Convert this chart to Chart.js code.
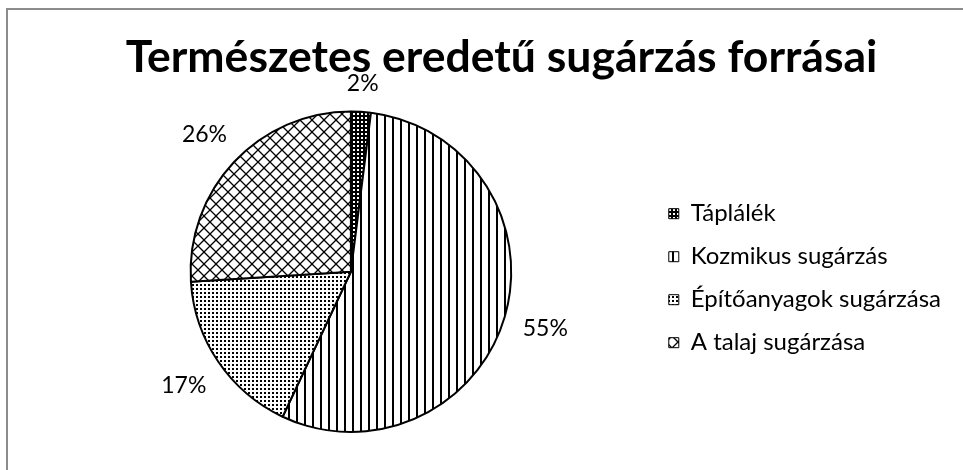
<!DOCTYPE html>
<html>
<head>
<meta charset="utf-8">
<script src="https://cdn.jsdelivr.net/npm/chart.js@4/dist/chart.umd.min.js"></script>
<style>
  html, body { margin: 0; padding: 0; background: #fff; }
  #wrap { position: relative; width: 963px; height: 470px; }
</style>
</head>
<body>
<div id="wrap"><canvas id="sources"></canvas></div>
<script>
// data
var categories = ["Táplálék", "Kozmikus sugárzás", "Építőanyagok sugárzása", "A talaj sugárzása"];
var values = [2, 55, 17, 26];
var chartTitle = "Természetes eredetű sugárzás forrásai";

// little hatch tiles, like the Excel pattern fills
function makePattern(size, draw) {
  var c = document.createElement('canvas');
  c.width = size; c.height = size;
  var g = c.getContext('2d');
  g.fillStyle = '#fff';
  g.fillRect(0, 0, size, size);
  g.fillStyle = '#000';
  g.strokeStyle = '#000';
  draw(g, size);
  return document.createElement('canvas').getContext('2d').createPattern(c, 'repeat');
}

var patterns = [
  makePattern(4, function (g) {          // dense grid
    g.fillRect(0, 0, 4, 4);
    g.fillStyle = '#fff';
    g.fillRect(1, 1, 2, 2);
  }),
  makePattern(8, function (g) {          // vertical lines
    g.fillRect(0, 0, 2, 8);
  }),
  makePattern(4, function (g) {          // dots
    g.fillRect(0, 0, 2, 2);
  }),
  makePattern(12, function (g, s) {      // diamonds
    g.lineWidth = 1.3;
    g.beginPath();
    g.moveTo(0, 0); g.lineTo(s, s);
    g.moveTo(s, 0); g.lineTo(0, s);
    g.stroke();
  })
];

Chart.defaults.font.family = 'Lato, Carlito, sans-serif';
Chart.defaults.color = '#000';

var frame = {
  id: 'frame',
  beforeDraw: function (chart) {
    var ctx = chart.ctx;
    ctx.save();
    ctx.strokeStyle = '#8c8c8c';
    ctx.lineWidth = 2;
    ctx.strokeRect(7, 9, 1000, 1000);
    ctx.restore();
  }
};

var pctLabels = {
  id: 'pctLabels',
  afterDatasetsDraw: function (chart) {
    var ctx = chart.ctx;
    var meta = chart.getDatasetMeta(0);
    ctx.save();
    ctx.font = '23px Lato';
    ctx.fillStyle = '#000';
    ctx.textAlign = 'center';
    ctx.textBaseline = 'middle';
    meta.data.forEach(function (arc, i) {
      var p = arc.getProps(['x', 'y', 'startAngle', 'endAngle', 'outerRadius'], true);
      var mid = (p.startAngle + p.endAngle) / 2;
      var txt = values[i] + '%';
      var hw = ctx.measureText(txt).width / 2;
      var cos = Math.cos(mid), sin = Math.sin(mid);
      var d = p.outerRadius + 18 + Math.abs(cos) * hw + Math.abs(sin) * 9;
      ctx.fillText(txt, p.x + cos * d, p.y + sin * d);
    });
    ctx.restore();
  }
};

var ctx = document.getElementById('sources').getContext('2d');
var chart = new Chart(ctx, {
  type: 'pie',
  data: {
    labels: categories,
    datasets: [{
      data: values,
      backgroundColor: patterns,
      borderColor: '#000',
      borderWidth: 2
    }]
  },
  options: {
    responsive: true,
    maintainAspectRatio: false,
    animation: false,
    layout: { padding: { left: 52, right: 12, top: 0, bottom: 37 } },
    plugins: {
      title: {
        display: true,
        text: chartTitle,
        font: { size: 44.5, weight: 'bold' },
        padding: { top: 31, bottom: 26 }
      },
      legend: {
        position: 'right',
        fullSize: false,
        title: { display: true, text: '', font: { size: 10, lineHeight: 1.3 }, padding: 0 },
        labels: {
          boxWidth: 10,
          boxHeight: 10,
          padding: 19,
          font: { size: 24 },
          generateLabels: function (chart) {
            var items = Chart.overrides.pie.plugins.legend.labels.generateLabels(chart);
            items.forEach(function (it) { it.lineWidth = 1; });
            return items;
          }
        }
      },
      tooltip: { enabled: false }
    }
  },
  plugins: [frame, pctLabels]
});
</script>
</body>
</html>
